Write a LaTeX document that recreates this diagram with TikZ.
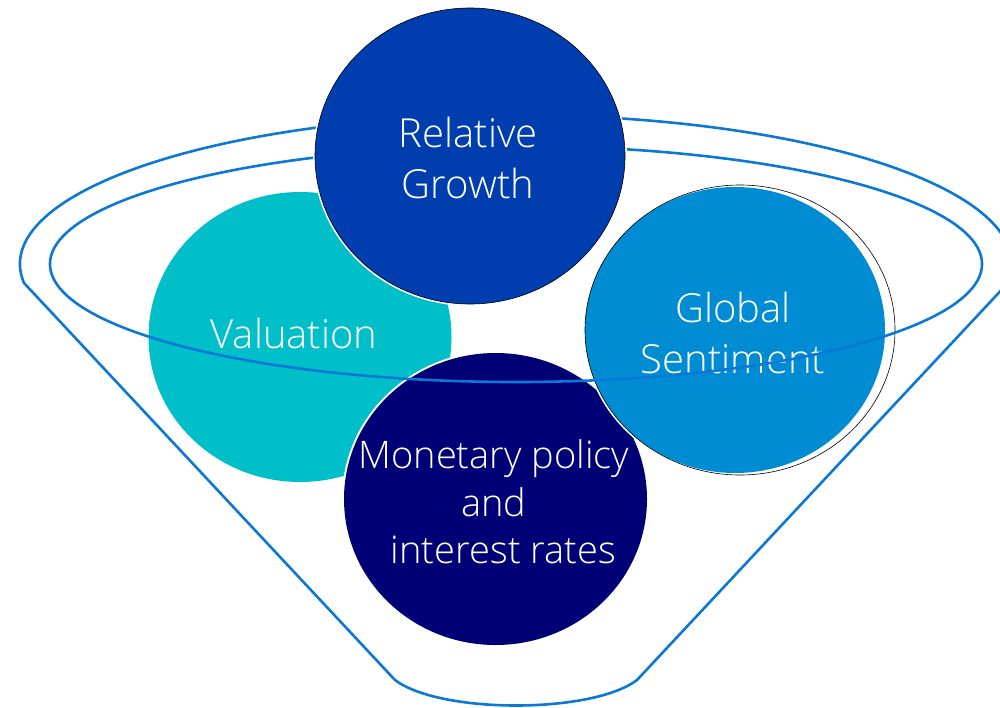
\documentclass[tikz,border=0pt]{standalone}
\usepackage{fontspec}
\setmainfont{Open Sans Light}
\definecolor{fnlcolor0000}{RGB}{12,120,214}
\definecolor{fnlcolor0001}{RGB}{0,62,176}
\definecolor{fnlcolor0002}{RGB}{0,191,200}
\definecolor{fnlcolor0003}{RGB}{0,140,210}
\definecolor{fnlcolor0004}{RGB}{0,0,118}
\begin{document}
\begin{tikzpicture}[yscale=-1
,fstyle0/.style={color=fnlcolor0000,line width=2.6pt}
,fstyle1/.style={fill=fnlcolor0001}
,fstyle2/.style={fill=fnlcolor0002}
,fstyle3/.style={fill=fnlcolor0003}
,fstyle4/.style={fill=fnlcolor0004}
,fstyle5/.style={color=white,line width=4pt}
,fstyle6/.style={color=black,line width=0.6pt}
,fstyle7/.style={text=white,align=center,font=\fontsize{40}{51}\selectfont}
,fstyle8/.style={text=white,align=center,font=\fontsize{38}{47.5}\selectfont}
]
\useasboundingbox (0pt,0pt) rectangle (1000pt,707pt);
% funnel body
\draw[fstyle0] (395pt,680pt) -- (24pt,283pt) arc[start angle=172.7,end angle=367.3,x radius=496pt,y radius=149pt] -- (637pt,680pt) .. controls (592pt,714pt) and (440pt,714pt) .. cycle;
% back circles
\fill[fstyle2] (300pt,337pt) ellipse (151.5pt and 145pt);
\node[fstyle7,anchor=base] (valuation) at (294pt,348pt) {Valuation};
\draw[fstyle5] (495.5pt,499pt) ellipse (151.5pt and 146pt);
\fill[fstyle4] (495.5pt,499pt) ellipse (151.5pt and 146pt);
\node[fstyle8] (monetary) at (494pt,502pt) {Monetary policy\\and\\\hspace*{0.5em}interest rates};
\draw[fstyle5] (735pt,330pt) ellipse (150pt and 143pt);
\fill[fstyle3] (735pt,330pt) ellipse (150pt and 143pt);
\draw[fstyle6] (740pt,330pt) ellipse (155pt and 145pt);
\node[fstyle7] (sentiment) at (733pt,333pt) {Global\\Sentiment};
% funnel rim
\draw[fstyle0] (516pt,264pt) ellipse (466pt and 118pt);
% front circle
\draw[fstyle5] (470pt,156pt) ellipse (155pt and 148pt);
\fill[fstyle1] (470pt,156pt) ellipse (155pt and 148pt);
\draw[fstyle6] (470pt,156pt) ellipse (155pt and 148pt);
\node[fstyle7] (growth) at (468pt,158pt) {Relative\\Growth};
\end{tikzpicture}
\end{document}
